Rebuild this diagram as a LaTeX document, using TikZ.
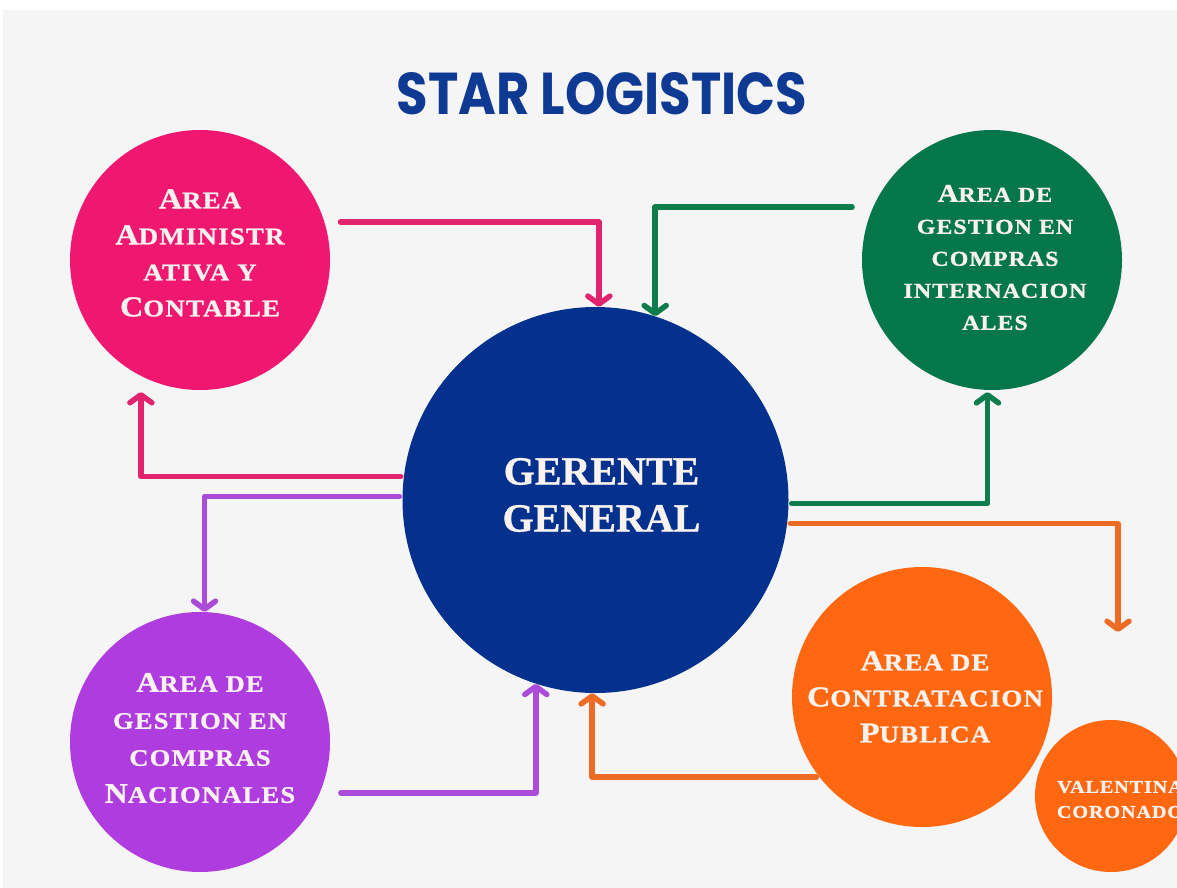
\documentclass[tikz,border=0pt]{standalone}
\usepackage{fontspec}
\usepackage{graphicx}
\usetikzlibrary{arrows.meta,calc}
\newfontfamily\circfont[LetterSpace=5,FakeStretch=1.12,FakeBold=1]{Liberation Serif}
\newfontfamily\ggfont[FakeBold=0.8]{Liberation Serif}
\newfontfamily\titlefont{Poppins}
\newcommand\Bk[1]{\scalebox{1.2}{#1}}
\definecolor{bgGray}{HTML}{F5F5F5}
\definecolor{cPink}{HTML}{EF1770}
\definecolor{cGreen}{HTML}{06764B}
\definecolor{cPurple}{HTML}{AF3CDE}
\definecolor{cOrange}{HTML}{FF6811}
\definecolor{cBlue}{HTML}{03318D}
\definecolor{aPink}{HTML}{E2246E}
\definecolor{aGreen}{HTML}{0F7C4C}
\definecolor{aPurple}{HTML}{AA4CD8}
\definecolor{aOrange}{HTML}{EC6C26}
\definecolor{cText}{HTML}{FAF2EE}
\definecolor{cTitle}{HTML}{0F3A94}
\tikzset{
  bubble/.style={circle, inner sep=0pt, minimum size=260pt, fill=#1},
  ctext/.style={text=cText, align=center, inner sep=0pt},
  conn/.style={draw=#1, line width=5.5pt, line cap=round, line join=round,
    -{Straight Barb[length=8pt,width=22pt,round]}},
}
\begin{document}
\begin{tikzpicture}[x=1pt,y=-1pt]
\useasboundingbox (0,0) rectangle (1177,888);
\fill[white] (0,0) rectangle (1177,888);
\fill[bgGray] (3,10) rectangle (1177,888);

\node[inner sep=0pt, text=cTitle] (title) at (602,94)
  {\resizebox{410pt}{42pt}{\titlefont\bfseries STAR LOGISTICS}};

% circles
\node[bubble=cPink] (adm) at (200,260) {};
\node[bubble=cGreen] (int) at (992,260) {};
\node[bubble=cPurple] (nac) at (200,742) {};
\node[bubble=cOrange] (pub) at (922,697) {};
\node[circle, inner sep=0pt, minimum size=152pt, fill=cOrange] (val) at (1111,796) {};
\node[circle, inner sep=0pt, minimum size=386pt, fill=cBlue] (gg) at (595.5,500) {};

% texts
\node[ctext, font=\circfont\bfseries\fontsize{24}{36}\selectfont] (admT) at ([yshift=7pt]adm.center)
  {\Bk{A}REA\\\Bk{A}DMINISTR\\ATIVA Y\\\Bk{C}ONTABLE};
\node[ctext, font=\circfont\bfseries\fontsize{21.3}{32}\selectfont] (intT) at ([xshift=3pt,yshift=2.5pt]int.center)
  {\Bk{A}REA DE\\GESTION EN\\COMPRAS\\INTERNACION\\ALES};
\node[ctext, font=\circfont\bfseries\fontsize{23.7}{37}\selectfont] (nacT) at ([yshift=4pt]nac.center)
  {\Bk{A}REA DE\\GESTION EN\\COMPRAS\\\Bk{N}ACIONALES};
\node[ctext, font=\circfont\bfseries\fontsize{24}{36}\selectfont] (pubT) at ([xshift=3pt]pub.center)
  {\Bk{A}REA DE\\\Bk{C}ONTRATACION\\\Bk{P}UBLICA};
\node[ctext, font=\circfont\bfseries\fontsize{18}{25}\selectfont] (valT) at ([xshift=9pt,yshift=-3.5pt]val.center)
  {VALENTINA\\CORONADO};
\node[ctext, font=\ggfont\bfseries\fontsize{40}{47}\selectfont] (ggT) at ([xshift=6pt,yshift=5pt]gg.center)
  {GERENTE\\GENERAL};

% connectors
\coordinate (oEnd) at (1118,632);
\draw[conn=aPink] ([xshift=16pt]adm.17) -| (gg.89);
\draw[conn=aGreen] ([xshift=-21pt]int.156.4) -| (gg.72);
\draw[conn=aPink, shorten <=3pt, shorten >=16pt] (gg.173) -| (adm.243.5);
\draw[conn=aPurple, shorten <=3pt] (gg.179.4) -| (nac.88);
\draw[conn=aGreen, shorten <=3pt, shorten >=2pt] (gg.-1) -| (int.268);
\draw[conn=aOrange, shorten <=3pt] (gg.-7.4) -| (oEnd);
\draw[conn=aPurple] ([xshift=21pt]nac.-23.6) -| (gg.252.4);
\draw[conn=aOrange, shorten <=3pt] (pub.218) -| (gg.269);
\end{tikzpicture}
\end{document}
